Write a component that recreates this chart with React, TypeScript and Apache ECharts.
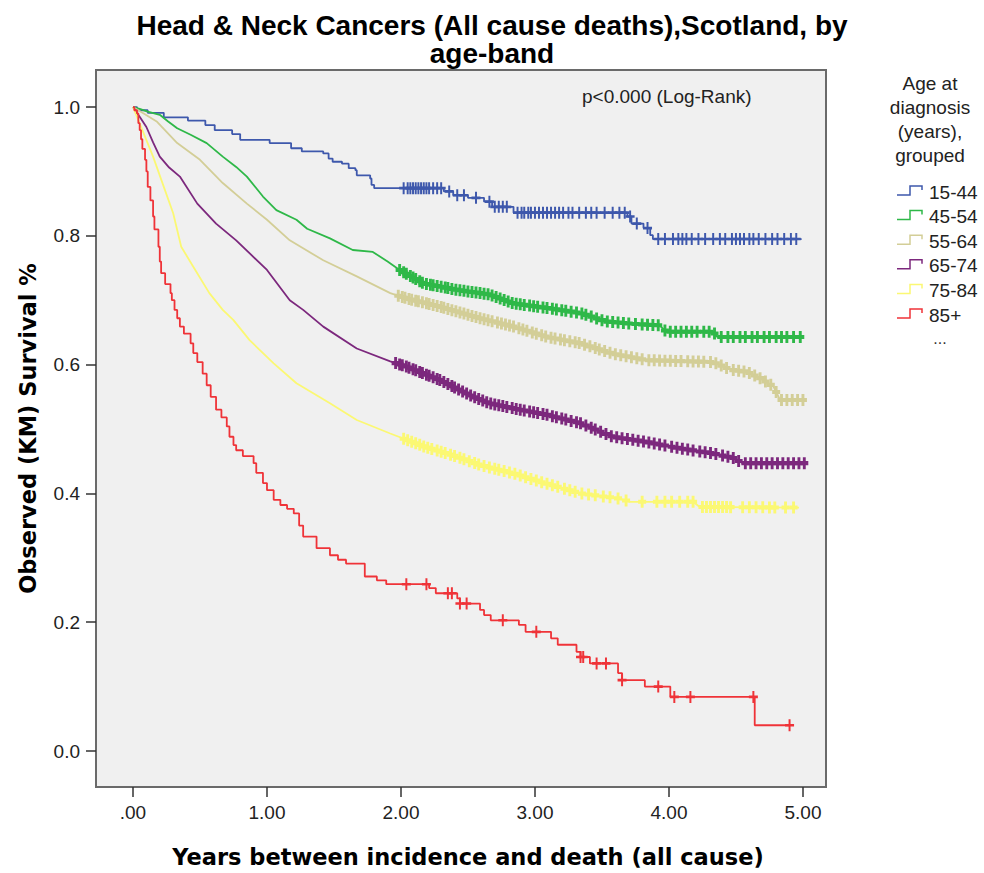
import React, { useEffect, useRef } from "react";
import * as echarts from "echarts";

// ---------- data ----------
const groupNames = ["15-44", "45-54", "55-64", "65-74", "75-84", "85+"];
const groupColors = ["#3E58AC", "#2EB848", "#D3CE97", "#7C287D", "#FBF873", "#EF3338"];

const xTickValues = [0, 1, 2, 3, 4, 5];
const xTickLabels = [".00", "1.00", "2.00", "3.00", "4.00", "5.00"];
const yTickValues = [0, 0.2, 0.4, 0.6, 0.8, 1.0];
const yTickLabels = ["0.0", "0.2", "0.4", "0.6", "0.8", "1.0"];

// KM curves [years, survival]
const km1544 = [
  [0, 1], [0.03, 0.995], [0.11, 0.991], [0.23, 0.984], [0.41, 0.979], [0.54, 0.972], [0.61, 0.964],
  [0.74, 0.958], [0.8, 0.949], [1.02, 0.944], [1.18, 0.936], [1.26, 0.931], [1.42, 0.928], [1.46, 0.92],
  [1.49, 0.915], [1.56, 0.912], [1.61, 0.905], [1.66, 0.902], [1.67, 0.894], [1.77, 0.889], [1.78, 0.879],
  [1.8, 0.874], [2.32, 0.869], [2.39, 0.863], [2.5, 0.859], [2.62, 0.853], [2.68, 0.845], [2.84, 0.836],
  [3.69, 0.83], [3.72, 0.819], [3.81, 0.812], [3.86, 0.801], [3.88, 0.795], [4.99, 0.795],
];
const km4554 = [
  [0, 1], [0.05, 0.997], [0.11, 0.993], [0.2, 0.988], [0.26, 0.978], [0.33, 0.967], [0.43, 0.957],
  [0.55, 0.944], [0.67, 0.923], [0.77, 0.907], [0.85, 0.892], [0.97, 0.861], [1.07, 0.84], [1.22, 0.825],
  [1.3, 0.811], [1.47, 0.796], [1.64, 0.778], [1.79, 0.775], [1.9, 0.76], [1.99, 0.747], [2.17, 0.726],
  [2.42, 0.716], [2.66, 0.709], [2.84, 0.695], [3.09, 0.688], [3.34, 0.68], [3.53, 0.667], [3.75, 0.663],
  [3.93, 0.661], [3.98, 0.651], [4.33, 0.651], [4.36, 0.643], [5.0, 0.643],
];
const km5564 = [
  [0, 1], [0.08, 0.99], [0.18, 0.977], [0.33, 0.944], [0.5, 0.918], [0.67, 0.882], [0.85, 0.85],
  [1.0, 0.825], [1.17, 0.793], [1.42, 0.762], [1.67, 0.737], [1.92, 0.711], [2.04, 0.703], [2.29, 0.69],
  [2.59, 0.672], [2.84, 0.659], [3.09, 0.643], [3.34, 0.633], [3.58, 0.617], [3.83, 0.607], [4.33, 0.604],
  [4.46, 0.592], [4.58, 0.589], [4.68, 0.579], [4.78, 0.566], [4.83, 0.545], [5.01, 0.545],
];
const km6574 = [
  [0, 1], [0.05, 0.985], [0.1, 0.969], [0.15, 0.945], [0.2, 0.923], [0.27, 0.906], [0.35, 0.892],
  [0.48, 0.85], [0.62, 0.819], [0.77, 0.793], [1.0, 0.747], [1.17, 0.7], [1.27, 0.685], [1.42, 0.659],
  [1.67, 0.625], [1.92, 0.605], [2.04, 0.597], [2.29, 0.576], [2.54, 0.55], [2.66, 0.54], [2.84, 0.532],
  [3.09, 0.522], [3.34, 0.509], [3.58, 0.488], [3.83, 0.48], [4.08, 0.47], [4.33, 0.462], [4.48, 0.455],
  [4.55, 0.447], [5.01, 0.447],
];
const km7584 = [
  [0, 1], [0.08, 0.959], [0.15, 0.923], [0.23, 0.876], [0.3, 0.835], [0.36, 0.783], [0.45, 0.752],
  [0.57, 0.711], [0.67, 0.685], [0.75, 0.669], [0.87, 0.638], [1.05, 0.602], [1.22, 0.571], [1.47, 0.54],
  [1.67, 0.514], [1.92, 0.493], [2.17, 0.473], [2.42, 0.457], [2.59, 0.444], [2.84, 0.431], [3.04, 0.418],
  [3.34, 0.4], [3.63, 0.392], [3.71, 0.387], [4.18, 0.387], [4.23, 0.379], [4.97, 0.378],
];
const km85 = [
  [0, 1], [0.01, 0.995], [0.03, 0.99], [0.04, 0.975], [0.05, 0.964], [0.06, 0.95], [0.07, 0.935],
  [0.09, 0.918], [0.1, 0.9], [0.11, 0.876], [0.13, 0.855], [0.15, 0.83], [0.16, 0.81], [0.19, 0.783],
  [0.2, 0.76], [0.21, 0.742], [0.24, 0.725], [0.28, 0.711], [0.29, 0.7], [0.31, 0.685], [0.33, 0.672],
  [0.35, 0.659], [0.38, 0.648], [0.43, 0.633], [0.45, 0.618], [0.48, 0.604], [0.52, 0.586], [0.55, 0.568],
  [0.58, 0.55], [0.62, 0.53], [0.66, 0.518], [0.7, 0.504], [0.72, 0.488], [0.75, 0.475], [0.77, 0.467],
  [0.82, 0.458], [0.9, 0.447], [0.92, 0.432], [0.97, 0.416], [1.0, 0.405], [1.05, 0.39], [1.1, 0.382],
  [1.15, 0.376], [1.2, 0.369], [1.24, 0.35], [1.27, 0.333], [1.37, 0.315], [1.47, 0.304], [1.53, 0.297],
  [1.59, 0.291], [1.73, 0.271], [1.82, 0.265], [1.89, 0.259], [2.21, 0.253], [2.26, 0.245], [2.42, 0.237],
  [2.44, 0.229], [2.59, 0.219], [2.62, 0.211], [2.67, 0.203], [2.88, 0.196], [2.93, 0.185], [3.12, 0.175],
  [3.17, 0.165], [3.31, 0.154], [3.34, 0.146], [3.41, 0.136], [3.62, 0.121], [3.65, 0.11], [3.82, 0.1],
  [4.01, 0.084], [4.64, 0.04], [4.9, 0.04],
];

// censoring times (years)
const cens1544 = [
  2.02, 2.05, 2.07, 2.09, 2.11, 2.13, 2.15, 2.17, 2.19, 2.21, 2.24, 2.27, 2.3, 2.36, 2.42, 2.47, 2.56,
  2.66, 2.7, 2.73, 2.76, 2.79, 2.87, 2.9, 2.92, 2.95, 2.97, 3.0, 3.03, 3.06, 3.09, 3.12, 3.15, 3.18, 3.21,
  3.25, 3.28, 3.33, 3.38, 3.42, 3.46, 3.52, 3.58, 3.63, 3.67, 3.71, 3.76, 3.84, 3.92, 3.97, 4.03, 4.07,
  4.1, 4.13, 4.17, 4.22, 4.27, 4.33, 4.38, 4.42, 4.47, 4.5, 4.53, 4.56, 4.6, 4.63, 4.67, 4.72, 4.77,
  4.81, 4.86, 4.91, 4.95,
];
const cens4554 = [
  1.99, 2.02, 2.04, 2.07, 2.09, 2.11, 2.14, 2.16, 2.19, 2.22, 2.24, 2.27, 2.3, 2.33, 2.35, 2.38, 2.41,
  2.44, 2.47, 2.5, 2.53, 2.56, 2.59, 2.62, 2.65, 2.68, 2.71, 2.74, 2.77, 2.8, 2.83, 2.86, 2.89, 2.92,
  2.96, 2.99, 3.02, 3.06, 3.09, 3.13, 3.16, 3.2, 3.23, 3.27, 3.31, 3.35, 3.38, 3.42, 3.46, 3.5, 3.54,
  3.58, 3.62, 3.66, 3.7, 3.75, 3.8, 3.84, 3.88, 3.92, 3.97, 4.01, 4.05, 4.09, 4.13, 4.17, 4.21, 4.26,
  4.3, 4.34, 4.39, 4.44, 4.48, 4.53, 4.57, 4.62, 4.66, 4.71, 4.75, 4.8, 4.84, 4.88, 4.93, 4.98,
];
const cens5564 = [
  1.98, 2.01, 2.03, 2.06, 2.08, 2.11, 2.13, 2.16, 2.19, 2.21, 2.24, 2.27, 2.3, 2.32, 2.35, 2.38, 2.41,
  2.44, 2.47, 2.5, 2.53, 2.56, 2.59, 2.62, 2.65, 2.68, 2.72, 2.75, 2.78, 2.81, 2.84, 2.88, 2.91, 2.94,
  2.98, 3.01, 3.05, 3.08, 3.12, 3.15, 3.19, 3.22, 3.26, 3.3, 3.33, 3.37, 3.41, 3.45, 3.48, 3.52, 3.56,
  3.6, 3.64, 3.68, 3.72, 3.76, 3.8, 3.85, 3.89, 3.93, 3.97, 4.01, 4.05, 4.09, 4.14, 4.18, 4.22, 4.26,
  4.31, 4.35, 4.39, 4.43, 4.48, 4.52, 4.56, 4.6, 4.64, 4.68, 4.72, 4.76, 4.8, 4.84, 4.88, 4.92, 4.96, 5.0,
];
const cens6574 = [
  1.96, 1.99, 2.01, 2.04, 2.06, 2.09, 2.11, 2.14, 2.16, 2.19, 2.21, 2.24, 2.27, 2.29, 2.32, 2.35, 2.38,
  2.4, 2.43, 2.46, 2.49, 2.52, 2.55, 2.58, 2.61, 2.64, 2.67, 2.7, 2.73, 2.76, 2.79, 2.83, 2.86, 2.89,
  2.92, 2.96, 2.99, 3.02, 3.06, 3.09, 3.13, 3.16, 3.2, 3.23, 3.27, 3.31, 3.34, 3.38, 3.42, 3.45, 3.49,
  3.53, 3.57, 3.61, 3.65, 3.69, 3.73, 3.77, 3.81, 3.85, 3.89, 3.93, 3.97, 4.02, 4.06, 4.1, 4.14, 4.18,
  4.23, 4.27, 4.31, 4.35, 4.4, 4.44, 4.48, 4.52, 4.57, 4.61, 4.65, 4.69, 4.73, 4.77, 4.81, 4.85, 4.89,
  4.93, 4.97, 5.01,
];
const cens7584 = [
  2.02, 2.05, 2.08, 2.11, 2.14, 2.17, 2.2, 2.23, 2.27, 2.3, 2.33, 2.37, 2.4, 2.44, 2.47, 2.51, 2.55,
  2.58, 2.62, 2.66, 2.7, 2.73, 2.77, 2.81, 2.85, 2.89, 2.93, 2.97, 3.01, 3.05, 3.09, 3.13, 3.17, 3.22,
  3.26, 3.3, 3.35, 3.4, 3.45, 3.51, 3.56, 3.62, 3.68, 3.8, 3.91, 3.97, 4.02, 4.08, 4.14, 4.18, 4.25,
  4.28, 4.31, 4.34, 4.37, 4.4, 4.43, 4.46, 4.55, 4.6, 4.65, 4.7, 4.75, 4.79, 4.87, 4.93,
];
const cens85 = [2.04, 2.19, 2.35, 2.38, 2.44, 2.49, 2.76, 3.01, 3.34, 3.36, 3.46, 3.53, 3.65, 3.92, 4.04, 4.16, 4.63, 4.9];

const kmCurves = [km1544, km4554, km5564, km6574, km7584, km85];
const censTimes = [cens1544, cens4554, cens5564, cens6574, cens7584, cens85];
const isStep = [true, false, false, false, false, true];

// value of the drawn curve at time t (step curves hold their level until the next event)
function curveAt(curve: number[][], t: number, step: boolean): number {
  let i = 0;
  while (i < curve.length - 1 && curve[i + 1][0] <= t) i++;
  if (step || i >= curve.length - 1) return curve[i][1];
  const [t0, s0] = curve[i];
  const [t1, s1] = curve[i + 1];
  return s0 + ((s1 - s0) * (t - t0)) / (t1 - t0);
}

const PLUS_THIN = "path://M3.9,0H6.1V3.9H10V6.1H6.1V10H3.9V6.1H0V3.9H3.9Z";
const PLUS_BOLD = "path://M3.2,0H6.8V3.3H10V6.7H6.8V10H3.2V6.7H0V3.3H3.2Z";
const ARIAL = '"Liberation Sans", Arial, sans-serif';
const VERDANA = '"DejaVu Sans", Verdana, sans-serif';

function buildOption() {
  const series: any[] = [];
  groupNames.forEach((name, i) => {
    series.push({
      name,
      type: "line",
      data: kmCurves[i],
      step: isStep[i] ? "end" : false,
      showSymbol: false,
      symbol: "none",
      lineStyle: { color: groupColors[i], width: 1.8 },
      z: 2 + i,
      silent: true,
    });
    series.push({
      name: name + " censored",
      type: "scatter",
      data: censTimes[i].map((t) => [t, curveAt(kmCurves[i], t, isStep[i])]),
      symbol: isStep[i] ? PLUS_THIN : PLUS_BOLD,
      symbolSize: isStep[i] ? [9, 12] : [8, 12],
      itemStyle: { color: groupColors[i], opacity: 1 },
      z: 2 + i,
      silent: true,
    });
  });

  const legendItems: any[] = [];
  const legendTitle = ["Age at", "diagnosis", "(years),", "grouped"];
  legendTitle.forEach((line, k) => {
    legendItems.push({
      type: "text",
      x: 930,
      y: 83 + k * 24.3,
      style: { text: line, fontSize: 19, fontFamily: ARIAL, fill: "#222", align: "center", verticalAlign: "middle" },
    });
  });
  groupNames.forEach((name, i) => {
    const yc = 192 + i * 24.6;
    legendItems.push({
      type: "polyline",
      shape: { points: [[897, yc + 3], [910, yc + 3], [910, yc - 6], [922, yc - 6], [922, yc - 2]] },
      style: { stroke: groupColors[i], fill: null, lineWidth: 1.5 },
    });
    legendItems.push({
      type: "text",
      x: 929,
      y: yc,
      style: { text: name, fontSize: 19, fontFamily: ARIAL, fill: "#222", align: "left", verticalAlign: "middle" },
    });
  });
  legendItems.push({
    type: "text",
    x: 940,
    y: 338,
    style: { text: "...", fontSize: 16, fontFamily: ARIAL, fill: "#333", align: "center", verticalAlign: "middle" },
  });
  legendItems.push({
    type: "text",
    x: 582,
    y: 96,
    style: { text: "p<0.000 (Log-Rank)", fontSize: 19, fontFamily: ARIAL, fill: "#222", align: "left", verticalAlign: "middle" },
  });

  return {
    animation: false,
    backgroundColor: "#ffffff",
    title: {
      text: "Head & Neck Cancers (All cause deaths),Scotland, by\nage-band",
      left: "center",
      top: 6,
      textStyle: { fontFamily: ARIAL, fontWeight: "bold", fontSize: 28, lineHeight: 28, color: "#000" },
    },
    grid: {
      left: 96,
      right: 158,
      top: 70,
      bottom: 86,
      show: true,
      backgroundColor: "#F0F0F0",
      borderColor: "#6a6a6a",
      borderWidth: 2,
    },
    xAxis: {
      type: "value",
      min: -0.276,
      max: 5.172,
      name: "Years between incidence and death (all cause)",
      nameLocation: "middle",
      nameGap: 58,
      nameTextStyle: { fontFamily: VERDANA, fontWeight: "bold", fontSize: 22.5, color: "#000", padding: [0, 0, 0, 14] },
      axisLine: { show: false, onZero: false },
      axisTick: {
        show: true,
        inside: false,
        length: 10,
        customValues: xTickValues,
        lineStyle: { color: "#333", width: 1.5 },
      },
      axisLabel: {
        customValues: xTickValues,
        formatter: (v: number) => xTickLabels[xTickValues.indexOf(Math.round(v))] ?? "",
        margin: 16,
        fontSize: 19,
        fontFamily: ARIAL,
        color: "#222",
      },
      splitLine: { show: false },
    },
    yAxis: {
      type: "value",
      min: -0.0559,
      max: 1.0575,
      name: "Observed (KM) Survival %",
      nameLocation: "middle",
      nameRotate: 90,
      nameGap: 57,
      nameTextStyle: { fontFamily: VERDANA, fontWeight: "bold", fontSize: 22.5, color: "#000" },
      axisLine: { show: false, onZero: false },
      axisTick: {
        show: true,
        inside: false,
        length: 10,
        customValues: yTickValues,
        lineStyle: { color: "#333", width: 1.5 },
      },
      axisLabel: {
        customValues: yTickValues,
        formatter: (v: number) => yTickLabels[yTickValues.findIndex((y) => Math.abs(y - v) < 1e-6)] ?? "",
        margin: 16,
        fontSize: 19,
        fontFamily: ARIAL,
        color: "#222",
      },
      splitLine: { show: false },
    },
    graphic: legendItems,
    series,
  };
}

export default function App() {
  const ref = useRef<HTMLDivElement>(null);
  useEffect(() => {
    if (!ref.current) return;
    const chart = echarts.init(ref.current, undefined, { renderer: "svg" });
    chart.setOption(buildOption() as any);
    return () => chart.dispose();
  }, []);
  return <div ref={ref} style={{ position: "absolute", left: 0, top: 0, width: 984, height: 873 }} />;
}
